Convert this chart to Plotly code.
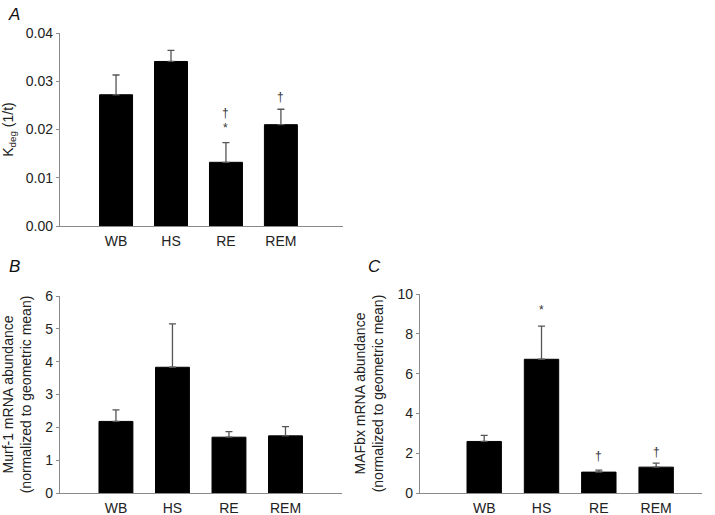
import plotly.graph_objects as go

W, H = 715, 515

groups = ["WB", "HS", "RE", "REM"]

kdeg_mean = [0.0272, 0.0341, 0.0132, 0.0210]
kdeg_err = [0.0041, 0.0023, 0.0041, 0.0032]

murf_mean = [2.18, 3.83, 1.70, 1.74]
murf_err = [0.35, 1.32, 0.17, 0.28]

mafbx_mean = [2.59, 6.72, 1.05, 1.30]
mafbx_err = [0.31, 1.67, 0.10, 0.20]

# significance marks: (group, value, symbol)
marks_a = [("RE", 0.0234, "†"), ("RE", 0.0204, "*"), ("REM", 0.0267, "†")]
marks_c = [("HS", 9.2, "*"), ("RE", 1.85, "†"), ("REM", 2.08, "†")]

FONT = "Liberation Sans, Arial, sans-serif"
AXC = "#8a8a8a"

fig = go.Figure()

def add_bars(mean, err, xa, ya):
    fig.add_trace(go.Bar(
        x=list(range(len(groups))), y=mean, width=0.6,
        marker=dict(color="black", line=dict(color="black", width=1)),
        error_y=dict(type="data", array=err, arrayminus=[0]*len(err), symmetric=False,
                     color="#555555", thickness=1.3, width=3.5),
        xaxis=xa, yaxis=ya, showlegend=False, hoverinfo="skip"))

add_bars(kdeg_mean, kdeg_err, "x", "y")
add_bars(murf_mean, murf_err, "x2", "y2")
add_bars(mafbx_mean, mafbx_err, "x3", "y3")

def px_dom_x(a, b):
    return [a / W, b / W]

def px_dom_y(top, bottom):
    return [1 - bottom / H, 1 - top / H]

xcommon = dict(tickmode="array", tickvals=list(range(4)), ticktext=groups,
               showline=True, linecolor=AXC, linewidth=1.3, ticks="outside",
               ticklen=2, tickcolor="rgba(0,0,0,0)", showgrid=False, zeroline=False,
               tickfont=dict(family=FONT, size=14, color="#222"), fixedrange=True,
               automargin=False)
ycommon = dict(showline=True, linecolor=AXC, linewidth=1.3, ticks="outside",
               ticklen=3, tickcolor=AXC, tickwidth=1, showgrid=False, zeroline=False,
               tickfont=dict(family=FONT, size=14, color="#222"), fixedrange=True,
               automargin=False)

fig.update_layout(
    width=W, height=H, margin=dict(l=0, r=0, t=0, b=0, autoexpand=False),
    paper_bgcolor="white", plot_bgcolor="white",
    font=dict(family=FONT, color="#222"),
    bargap=0.4,
    xaxis=dict(domain=px_dom_x(60, 343), range=[-1.02, 4.13], anchor="y", **xcommon),
    yaxis=dict(domain=px_dom_y(33, 226), range=[0, 0.04], dtick=0.01, tickformat=".2f",
               anchor="x", title=dict(text="K<sub>deg</sub> (1/t)", font=dict(size=14, family=FONT), standoff=8),
               **ycommon),
    xaxis2=dict(domain=px_dom_x(60, 342), range=[-0.99, 4.0], anchor="y2", **xcommon),
    yaxis2=dict(domain=px_dom_y(296, 493), range=[0, 6], dtick=1, anchor="x2",
                title=dict(text="Murf-1 mRNA abundance<br>(normalized to geometric mean)",
                           font=dict(size=14, family=FONT), standoff=10),
                **ycommon),
    xaxis3=dict(domain=px_dom_x(420, 702), range=[-1.12, 3.8], anchor="y3", **xcommon),
    yaxis3=dict(domain=px_dom_y(294, 493), range=[0, 10], dtick=2, anchor="x3",
                title=dict(text="MAFbx mRNA abundance<br>(normalized to geometric mean)",
                           font=dict(size=14, family=FONT), standoff=10),
                **ycommon),
)

ann = []
for g, v, s in marks_a:
    ann.append(dict(x=groups.index(g), y=v, xref="x", yref="y", text=s, showarrow=False,
                    font=dict(size=12, family=FONT, color="#333")))
for g, v, s in marks_c:
    ann.append(dict(x=groups.index(g), y=v, xref="x3", yref="y3", text=s, showarrow=False,
                    font=dict(size=12, family=FONT, color="#333")))
for lab, x, y in [("A", 14, 14), ("B", 14, 266), ("C", 374, 266)]:
    ann.append(dict(x=x / W, y=1 - y / H, xref="paper", yref="paper", text="<i>" + lab + "</i>",
                    xanchor="center", yanchor="middle",
                    showarrow=False, font=dict(size=17, family=FONT, color="#111")))
fig.update_layout(annotations=ann)

fig.write_html("out.html", config={"displayModeBar": False},
               post_script="document.body.style.margin='0';document.body.style.overflow='hidden';")
